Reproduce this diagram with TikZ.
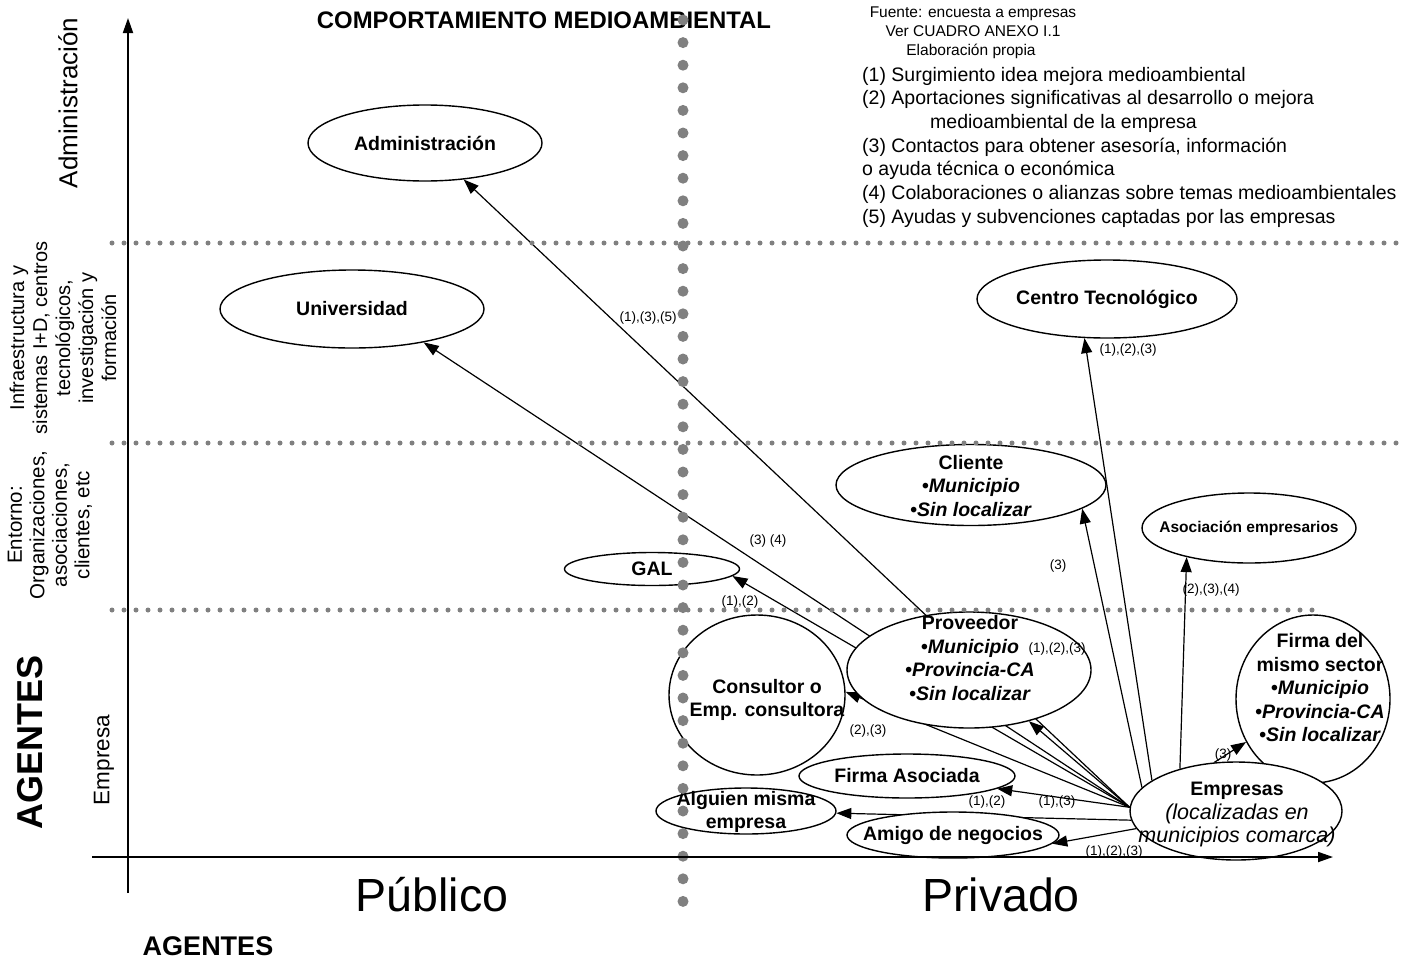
\documentclass[tikz,border=0pt]{standalone}
\usepackage{fontspec}
\setmainfont{Liberation Sans}
\usetikzlibrary{arrows.meta,shapes.geometric}
\pgfdeclarelayer{bg}
\pgfdeclarelayer{fg}
\pgfsetlayers{bg,main,fg}
\definecolor{dotgray}{RGB}{128,128,128}
\begin{document}
\begin{tikzpicture}[x=1pt,y=-1pt,
  ell/.style={draw, ellipse, line width=1.4pt, fill=white, inner sep=0pt},
  ntxt/.style={font=\fontsize{19.5}{23.5}\selectfont\bfseries, align=center, inner sep=0pt},
  elab/.style={font=\fontsize{13.5}{15}\selectfont, inner sep=0pt},
  legtxt/.style={font=\fontsize{19.5}{23.6}\selectfont, inner sep=0pt, anchor=base west},
  srctxt/.style={font=\fontsize{15.5}{19}\selectfont, inner sep=0pt, anchor=base},
  conn/.style={line width=1.2pt, -{Triangle[length=15pt,width=11pt]}},
  hdots/.style={dotgray, line width=5pt, line cap=round, dash pattern=on 0pt off 12pt},
  vdots/.style={dotgray, line width=11pt, line cap=round, dash pattern=on 0pt off 22.6pt},
  axisline/.style={line width=1.8pt, -{Triangle[length=15pt,width=10pt]}},
  rot/.style={rotate=90, align=center, inner sep=0pt}
]
\useasboundingbox (0,0) rectangle (1420,964);

% ---- ellipses
\node[ell, minimum width=234pt, minimum height=76pt] (Adm) at (425,143) {};
\node[ell, minimum width=264pt, minimum height=78pt] (Uni) at (352,309) {};
\node[ell, minimum width=260pt, minimum height=78pt] (CT) at (1107,299) {};
\node[ell, minimum width=270pt, minimum height=81pt] (Cli) at (971,485) {};
\node[ell, minimum width=214pt, minimum height=70pt] (AE) at (1249,528) {};
\node[ell, minimum width=175pt, minimum height=33pt] (GAL) at (652,569) {};
\node[ell, minimum width=244pt, minimum height=116pt] (Prov) at (969,670) {};
\node[ell, minimum width=176pt, minimum height=160pt] (Cons) at (757,695) {};
\node[ell, minimum width=154pt, minimum height=168pt] (Fsec) at (1313,699) {};
\node[ell, minimum width=216pt, minimum height=44pt] (FA) at (907,776) {};
\node[ell, minimum width=180pt, minimum height=46pt] (Alg) at (746,811) {};
\node[ell, minimum width=212pt, minimum height=46pt] (Ami) at (953,835) {};
\node[ell, minimum width=212pt, minimum height=98pt] (Emp) at (1236,811) {};

% ---- ellipse texts
\node[ntxt] (Admt) at (Adm) {Administración};
\node[ntxt] (Unit) at (Uni) {Universidad};
\node[ntxt] (CTt) at (CT) {Centro Tecnológico};
\node[ntxt] (Clit) at (971,486) {Cliente\\•\textit{Municipio}\\•\textit{Sin localizar}};
\node[ntxt, font=\fontsize{15.5}{18}\selectfont\bfseries] (AEt) at (AE) {Asociación empresarios};
\node[ntxt] (GALt) at (GAL) {GAL};
\node[ntxt] (Provt) at (970,658) {Proveedor\\•\textit{Municipio}\\•\textit{Provincia-CA}\\•\textit{Sin localizar}};
\node[ntxt] (Const) at (767,700) {Consultor o\\Emp. consultora};
\node[ntxt] (Fsect) at (1320,688) {Firma del\\mismo sector\\•\textit{Municipio}\\•\textit{Provincia-CA}\\•\textit{Sin localizar}};
\node[ntxt] (FAt) at (FA) {Firma Asociada};
\node[ntxt] (Algt) at (746,812) {Alguien misma\\empresa};
\node[ntxt] (Amit) at (Ami) {Amigo de negocios};
\node[ntxt] (Empt) at (1237,815) {Empresas\\{\fontsize{21.5}{23.5}\selectfont\mdseries\itshape (localizadas en}\\{\fontsize{21.5}{23.5}\selectfont\mdseries\itshape municipios comarca)}};

% ---- connectors
\begin{pgfonlayer}{bg}
\draw[conn] (Emp.178) -- (Adm);
\draw[conn] (Emp.178) -- (Uni.-25);
\draw[conn] (Emp.178) -- (GAL.-5);
\draw[conn] (Emp.178) -- (Cons.2);
\draw[conn] (Emp.178) -- (Prov);
\draw[conn] (Emp.166) -- (Cli.-12);
\draw[conn] (Emp.160) -- (CT.240);
\draw[conn] (Emp.143) -- (AE.205);
\draw[conn] (Emp.114) -- (Fsec);
\draw[conn] (Emp.178) -- (FA);
\draw[conn] (Emp.185) -- (Alg);
\draw[conn] (Emp.190) -- (Ami.-5);
\end{pgfonlayer}

% ---- connector labels
\node[elab] (l1) at (648,318) {(1),(3),(5)};
\node[elab] (l2) at (768,541) {(3) (4)};
\node[elab] (l3) at (740,602) {(1),(2)};
\node[elab] (l4) at (1057,649) {(1),(2),(3)};
\node[elab] (l5) at (868,731) {(2),(3)};
\node[elab] (l6) at (1058,566) {(3)};
\node[elab] (l7) at (1128,350) {(1),(2),(3)};
\node[elab] (l8) at (1211,590) {(2),(3),(4)};
\node[elab] (l9) at (1223,755) {(3)};
\node[elab] (l10) at (1057,802) {(1),(3)};
\node[elab] (l11) at (987,802) {(1),(2)};
\node[elab] (l12) at (1114,852) {(1),(2),(3)};

% ---- title, source, legend
\node[inner sep=0pt, anchor=base, font=\fontsize{23.9}{27}\selectfont\bfseries] (title) at (544,28) {COMPORTAMIENTO MEDIOAMBIENTAL};
\node[srctxt] (s1) at (973,17.5) {Fuente: encuesta a empresas};
\node[srctxt] (s2) at (973,36.5) {Ver CUADRO ANEXO I.1};
\node[srctxt] (s3) at (971,55.5) {Elaboración propia};
\node[legtxt] (g1) at (862,81) {(1) Surgimiento idea mejora medioambiental};
\node[legtxt] (g2) at (862,104.7) {(2) Aportaciones significativas al desarrollo o mejora};
\node[legtxt] (g3) at (930,128.3) {medioambiental de la empresa};
\node[legtxt] (g4) at (862,152) {(3) Contactos para obtener asesoría, información};
\node[legtxt] (g5) at (862,175.7) {o ayuda técnica o económica};
\node[legtxt] (g6) at (862,199.3) {(4) Colaboraciones o alianzas sobre temas medioambientales};
\node[legtxt] (g7) at (862,223) {(5) Ayudas y subvenciones captadas por las empresas};

% ---- axis labels
\node[rot, font=\fontsize{26}{30}\selectfont] (ladm) at (68,103) {Administración};
\node[rot, font=\fontsize{20}{23}\selectfont] (linf) at (63,338) {Infraestructura y\\sistemas I+D, centros\\tecnológicos,\\investigación y\\formación};
\node[rot, font=\fontsize{20.5}{22.5}\selectfont] (lent) at (50,525) {Entorno:\\Organizaciones,\\asociaciones,\\clientes, etc};
\node[rot, font=\fontsize{36}{40}\selectfont\bfseries] (lag) at (30,742) {AGENTES};
\node[rot, font=\fontsize{22.5}{26}\selectfont] (lemp) at (104,760) {Empresa};
\node[inner sep=0pt, anchor=base, font=\fontsize{46.5}{50}\selectfont] (lpub) at (432,911) {Público};
\node[inner sep=0pt, anchor=base, font=\fontsize{46.5}{50}\selectfont] (lpriv) at (1001,911) {Privado};
\node[inner sep=0pt, anchor=base, font=\fontsize{27}{30}\selectfont\bfseries] (lagb) at (208,955) {AGENTES};

% ---- axes and dotted guides
\coordinate (ya) at (128,893);
\coordinate (yz) at (128,18);
\coordinate (xa) at (92,857);
\coordinate (xz) at (1333,857);
\coordinate (h1a) at (112,243); \coordinate (h1b) at (1405,243);
\coordinate (h2a) at (112,443); \coordinate (h2b) at (1405,443);
\coordinate (h3a) at (112,610); \coordinate (h3b) at (1322,610);
\coordinate (va) at (683,20); \coordinate (vb) at (683,920);
\begin{pgfonlayer}{fg}
\draw[hdots] (h1a) -- (h1b);
\draw[hdots] (h2a) -- (h2b);
\draw[hdots] (h3a) -- (h3b);
\draw[vdots] (va) -- (vb);
\draw[axisline] (ya) -- (yz);
\draw[axisline] (xa) -- (xz);
\end{pgfonlayer}
\end{tikzpicture}
\end{document}
